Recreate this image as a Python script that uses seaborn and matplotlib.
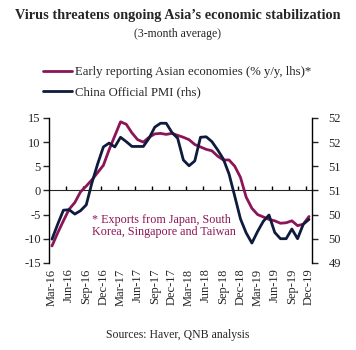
import math
import pandas as pd
import seaborn as sns
import matplotlib
matplotlib.use('Agg')
import matplotlib.pyplot as plt
from matplotlib.ticker import FuncFormatter

# Monthly data, Mar-16 .. Dec-19 (3-month averages)
months = pd.date_range('2016-03-01', '2019-12-01', freq='MS')
asia_exports = [-11.5, -8.8, -6.3, -3.9, -2.5, -0.3, 0.9, 2.2, 3.7, 5.2,
                8.4, 11.3, 14.2, 13.7, 11.9, 10.5, 10.0, 11.0, 11.7, 11.8,
                11.6, 11.8, 11.4, 11.0, 10.5, 9.5, 9.0, 8.5, 8.2, 7.1,
                6.3, 6.3, 5.0, 2.7, -1.4, -3.7, -5.0, -5.5, -6.0, -6.3,
                -6.8, -6.7, -6.3, -7.3, -7.0, -5.4]
china_pmi = [49.49, 49.80, 50.09, 50.10, 50.01, 50.08, 50.20, 50.66, 51.05, 51.40,
             51.48, 51.40, 51.60, 51.51, 51.41, 51.41, 51.41, 51.58, 51.81, 51.89,
             51.89, 51.70, 51.58, 51.13, 51.01, 51.11, 51.60, 51.61, 51.51, 51.34,
             51.15, 50.84, 50.38, 49.91, 49.62, 49.41, 49.65, 49.86, 49.99, 49.63,
             49.50, 49.50, 49.70, 49.50, 49.80, 49.90]

label_asia = 'Early reporting Asian economies (% y/y, lhs)*'
label_pmi = 'China Official PMI (rhs)'
purple = '#8C1557'
navy = '#0E1B3D'

df = pd.DataFrame({'idx': range(len(months)),
                   'asia': asia_exports,
                   'pmi': china_pmi})
tick_labels = [d.strftime('%b-%y') for d in months[::3]]

sns.set_style('white')
plt.rcParams['font.family'] = ['Liberation Serif', 'DejaVu Serif']
plt.rcParams['axes.unicode_minus'] = False

fig = plt.figure(figsize=(3.56, 3.5), dpi=100)
ax = fig.add_axes([0.138, 0.249, 0.738, 0.414])
ax2 = ax.twinx()

sns.lineplot(data=df, x='idx', y='asia', ax=ax, color=purple, lw=2.0,
             label=label_asia, legend=False)
sns.lineplot(data=df, x='idx', y='pmi', ax=ax2, color=navy, lw=2.0,
             label=label_pmi, legend=False)

# axes limits and ticks
ax.set_xlim(-0.5, len(months) - 0.5)
ax.set_ylim(-15, 15)
ax2.set_ylim(49, 52)
ax.set_yticks(range(-15, 16, 5))
ax2.set_yticks([49 + 0.5 * k for k in range(7)])
ax2.yaxis.set_major_formatter(FuncFormatter(lambda v, p: str(int(math.floor(v + 0.5)))))

ax.set_xticks(range(0, len(months), 3))
ax.set_xticklabels(tick_labels, rotation=90, fontsize=9)
ax.tick_params(axis='x', length=0, pad=4)
ax.tick_params(axis='y', direction='out', length=4, width=1, labelsize=9, pad=2, left=True)
ax2.tick_params(axis='y', direction='out', length=4, width=1, labelsize=9, pad=8, right=True)
ax.set_xlabel('')
ax.set_ylabel('')
ax2.set_ylabel('')

for a in (ax, ax2):
    for side in ('top', 'bottom'):
        a.spines[side].set_visible(False)
    for side in ('left', 'right'):
        a.spines[side].set_color('black')
        a.spines[side].set_linewidth(1)
ax.spines['right'].set_visible(False)
ax2.spines['left'].set_visible(False)

# zero line with category tick marks
zero = ax.secondary_xaxis(0.5)
zero.set_xticks([3 * k + 2.5 for k in range(15)])
zero.set_xticklabels([])
zero.tick_params(axis='x', direction='out', length=3, width=1, color='black')
zero.spines['bottom'].set_color('black')
zero.spines['bottom'].set_linewidth(1)

ax.text(0.165, 0.335, '* Exports from Japan, South\nKorea, Singapore and Taiwan',
        transform=ax.transAxes, color=purple, fontsize=8.7, va='top', ha='left',
        linespacing=1.0)

# titles and legend
fig.text(0.5, 0.955, 'Virus threatens ongoing Asia\u2019s economic stabilization',
         ha='center', va='center', fontsize=10.3, fontweight='bold')
fig.text(0.5, 0.902, '(3-month average)', ha='center', va='center', fontsize=8.5)
h1, l1 = ax.get_legend_handles_labels()
h2, l2 = ax2.get_legend_handles_labels()
fig.legend(h1 + h2, l1 + l2, loc='upper left', bbox_to_anchor=(0.12, 0.81),
           frameon=False, fontsize=9.2, handlelength=2.3, handletextpad=0.25,
           labelspacing=0.6, borderpad=0, borderaxespad=0)

fig.text(0.5, 0.043, 'Sources: Haver, QNB analysis', ha='center', va='center', fontsize=8.5)

fig.savefig('out.png', dpi=100)
